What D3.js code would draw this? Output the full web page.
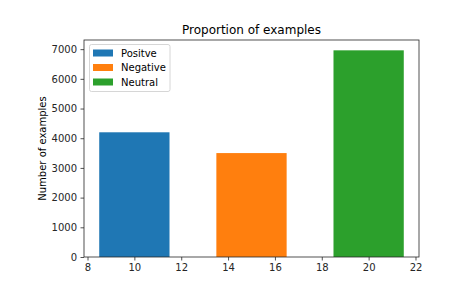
<!DOCTYPE html>
<html><head><meta charset="utf-8">
<script src="https://cdn.jsdelivr.net/npm/d3@7"></script>
<style>body{margin:0;background:#fff}svg{font-family:"DejaVu Sans",sans-serif}</style>
</head><body>
<svg id="c" width="452" height="290"></svg>
<script>
const categories = ["Positve", "Negative", "Neutral"];
const xPositions = [10, 15, 20];
const values = [4200, 3500, 6960];
const colors = ["#1f77b4", "#ff7f0e", "#2ca02c"];
const xTicks = [8, 10, 12, 14, 16, 18, 20, 22];
const yTicks = [0, 1000, 2000, 3000, 4000, 5000, 6000, 7000];
const barWidth = 3;
const title = "Proportion of examples";
const yLabel = "Number of examples";

const svg = d3.select("#c");
const L = 84, R = 419, T = 40, B = 257;
const x = d3.scale ? null : null;
const xs = d3.scaleLinear().domain([7.85, 22.15]).range([L, R]);
const ys = d3.scaleLinear().domain([0, d3.max(values) * 1.05]).range([B, T]);

svg.selectAll("rect.bar").data(values).enter().append("rect")
  .attr("class", "bar")
  .attr("x", (d, i) => xs(xPositions[i] - barWidth / 2))
  .attr("width", (d, i) => xs(xPositions[i] + barWidth / 2) - xs(xPositions[i] - barWidth / 2))
  .attr("y", d => ys(d))
  .attr("height", d => ys(0) - ys(d))
  .attr("fill", (d, i) => colors[i]);

const xAxis = svg.append("g").attr("transform", `translate(0,${B})`)
  .call(d3.axisBottom(xs).tickValues(xTicks).tickSize(3.5).tickPadding(3.5).tickFormat(d3.format("d")));
const yAxis = svg.append("g").attr("transform", `translate(${L},0)`)
  .call(d3.axisLeft(ys).tickValues(yTicks).tickSize(3.5).tickPadding(3.5).tickFormat(d3.format("d")));
[xAxis, yAxis].forEach(g => {
  g.selectAll("text").attr("font-size", 10).attr("fill", "#262626").attr("font-family", "DejaVu Sans");
  g.selectAll("line").attr("stroke", "#262626").attr("stroke-width", 0.8);
  g.select(".domain").remove();
});
// frame
svg.append("rect").attr("x", L).attr("y", T).attr("width", R - L).attr("height", B - T)
  .attr("fill", "none").attr("stroke", "#262626").attr("stroke-width", 0.8);

svg.append("text").attr("x", (L + R) / 2).attr("y", T - 6).attr("text-anchor", "middle")
  .attr("font-size", 12).attr("fill", "#000").text(title);
svg.append("text").attr("transform", `translate(46,${(T + B) / 2}) rotate(-90)`)
  .attr("text-anchor", "middle").attr("font-size", 10).attr("fill", "#000").text(yLabel);

// legend
const lg = svg.append("g");
lg.append("rect").attr("x", 89.5).attr("y", 44.5).attr("width", 80.5).attr("height", 47)
  .attr("rx", 2).attr("fill", "#fff").attr("fill-opacity", 0.8).attr("stroke", "#ccc").attr("stroke-width", 0.8);
categories.forEach((c, i) => {
  const cy = 53 + i * 14.5;
  lg.append("rect").attr("x", 93).attr("y", cy - 3.5).attr("width", 20).attr("height", 7).attr("fill", colors[i]);
  lg.append("text").attr("x", 121).attr("y", cy + 3.5).attr("font-size", 10).attr("fill", "#000").text(c);
});
</script>
</body></html>
